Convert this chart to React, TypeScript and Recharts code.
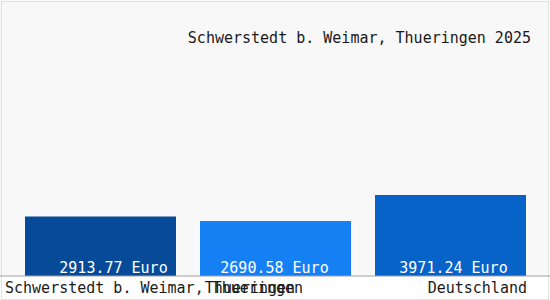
import React from "react";
import { BarChart, Bar, XAxis, YAxis, Cell, LabelList } from "recharts";

const categories = ["Schwerstedt b. Weimar, Thueringen", "Thueringen", "Deutschland"];
const values = [2913.77, 2690.58, 3971.24];
const colors = ["#074b98", "#1580f4", "#0863c8"];
const title = "Schwerstedt b. Weimar, Thueringen 2025";
const unit = "Euro";

const data = categories.map((name, i) => ({ name, value: values[i] }));

const FONT = "'DejaVu Sans Mono', 'Liberation Mono', monospace";
const LABEL_SHIFT = [13, -1, 3];

const Tick = (props: any) => {
  const { x, y, payload, index } = props;
  let anchor: "start" | "middle" | "end" = "middle";
  let dx = -25.5;
  if (index === 0) {
    anchor = "start";
    dx = -95.5;
  } else if (index === categories.length - 1) {
    anchor = "end";
    dx = 76.5;
  }
  return (
    <text x={x + dx} y={y + 17} textAnchor={anchor} fontFamily={FONT} fontSize={15} fill="#1a1a1a">
      {payload.value}
    </text>
  );
};

const ValueLabel = (props: any) => {
  const { x, y, width, height, value, index } = props;
  return (
    <text
      x={x + width / 2 + (LABEL_SHIFT[index] || 0)}
      y={y + height - 3}
      textAnchor="middle"
      fontFamily={FONT}
      fontSize={15}
      fill="#ffffff"
    >
      {`${Number(value).toFixed(2)} ${unit}`}
    </text>
  );
};

export default function App() {
  return (
    <div style={{ position: "absolute", left: 0, top: 0, width: 550, height: 300, background: "#ffffff" }}>
      <div style={{ position: "absolute", left: 0, top: 0, width: 550, height: 276, background: "#f8f8f8" }} />
      <div
        style={{
          position: "absolute",
          left: 1,
          top: 1,
          width: 546,
          height: 297,
          border: "1px solid #e2e2e2",
        }}
      />
      <div style={{ position: "absolute", left: 0, top: 0 }}>
        <BarChart
          width={550}
          height={300}
          data={data}
          margin={{ top: 36, right: 0, left: 0, bottom: 0 }}
        >
          <XAxis
            dataKey="name"
            height={24}
            padding={{ left: 13, right: 12 }}
            axisLine={{ stroke: "#a0a0a0" }}
            tickLine={false}
            tickSize={0}
            tickMargin={0}
            interval={0}
            tick={<Tick />}
          />
          <YAxis hide domain={[0, 11766]} />
          <Bar dataKey="value" barSize={151} isAnimationActive={false}>
            {data.map((d, i) => (
              <Cell key={d.name} fill={colors[i]} />
            ))}
            <LabelList dataKey="value" content={<ValueLabel />} />
          </Bar>
        </BarChart>
      </div>
      <svg style={{ position: "absolute", left: 0, top: 0 }} width={550} height={300}>
        <text x={531} y={43} textAnchor="end" fontFamily={FONT} fontSize={15} fill="#1a1a1a">
          {title}
        </text>
      </svg>
    </div>
  );
}
